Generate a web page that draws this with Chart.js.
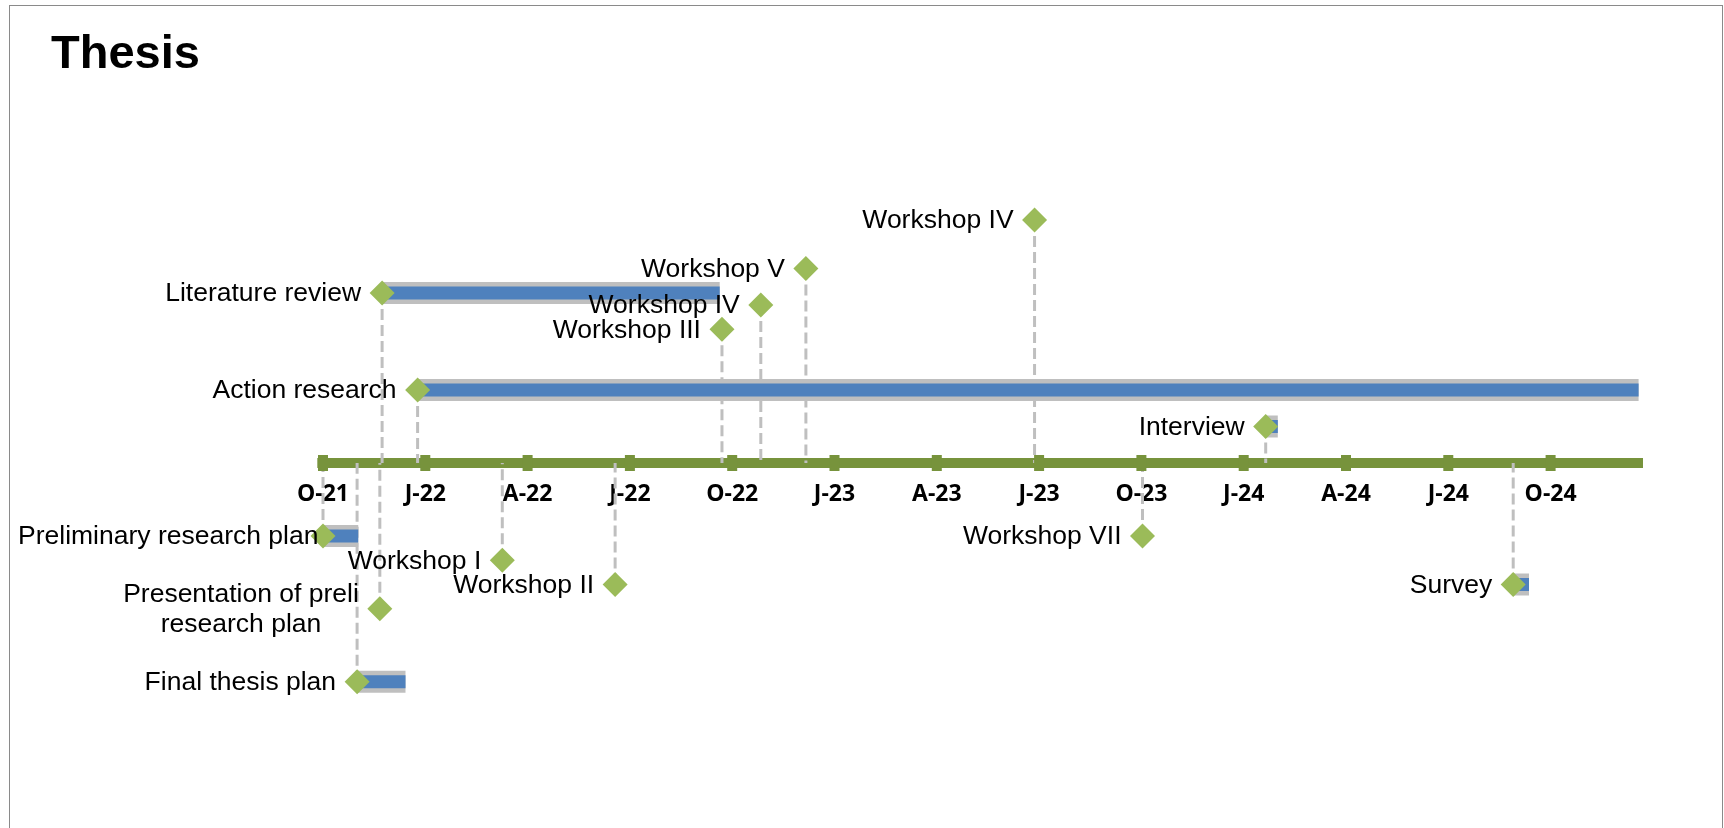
<!DOCTYPE html>
<html><head><meta charset="utf-8">
<script src="https://cdn.jsdelivr.net/npm/chart.js@4.4.1/dist/chart.umd.min.js"></script>
<style>
html,body{margin:0;padding:0;width:1724px;height:828px;overflow:hidden;background:#fff;}
#wrap{position:relative;width:1724px;height:828px;}
#frame{position:absolute;left:9px;top:5px;width:1714px;height:900px;border:1px solid #8a8a8a;box-sizing:border-box;pointer-events:none;}
canvas{position:absolute;left:0;top:0;}
</style></head><body>
<div id="wrap"><canvas id="c" width="1724" height="828"></canvas><div id="frame"></div></div>
<script>
// ---- data ----
const chartTitle = 'Thesis';
const eventNames = ['Preliminary research plan', 'Presentation of preli\nresearch plan', 'Final thesis plan',
  'Literature review', 'Action research', 'Workshop I', 'Workshop II', 'Workshop III', 'Workshop IV',
  'Workshop V', 'Workshop IV', 'Workshop VII', 'Interview', 'Survey'];
const eventStarts = ['2021-10-01', '2021-11-21', '2021-11-01', '2021-11-23', '2021-12-25', '2022-03-09',
  '2022-06-18', '2022-09-22', '2022-10-27', '2022-12-06', '2023-06-27', '2023-10-02', '2024-01-21', '2024-08-29'];
const eventEnds = ['2021-11-02', null, '2021-12-14', '2022-09-20', '2024-12-19', null,
  null, null, null, null, null, null, '2024-02-01', '2024-09-12'];
const eventHeights = [-3, -6, -9, 7, 3, -4, -5, 5.5, 6.5, 8, 10, -3, 1.5, -5];
const tickDates = ['2021-10-01', '2022-01-01', '2022-04-01', '2022-07-01', '2022-10-01', '2023-01-01',
  '2023-04-01', '2023-07-01', '2023-10-01', '2024-01-01', '2024-04-01', '2024-07-01', '2024-10-01'];
const tickLabels = ['O-21', 'J-22', 'A-22', 'J-22', 'O-22', 'J-23', 'A-23', 'J-23', 'O-23', 'J-24', 'A-24', 'J-24', 'O-24'];
const axisSpan = ['2021-09-26', '2024-12-23'];

// months since Oct 2021 (monthly date axis)
function toMonths(s) {
  const [Y, M, D] = s.split('-').map(Number);
  const dim = new Date(Y, M, 0).getDate();
  return (Y - 2021) * 12 + (M - 10) + (D - 1) / dim;
}
const tickMonths = tickDates.map(toMonths);

const GREEN_AXIS = '#77933C', GREEN_PT = '#9BBB59', BLUE = '#4F81BD', GREY = '#BFBFBF', DASH = '#BFBFBF';

const datasets = [];
// diamonds (drawn on top => lowest order)
datasets.push({
  data: eventStarts.map((s, i) => ({x: toMonths(s), y: eventHeights[i]})),
  pointStyle: 'rectRot', pointRadius: 12.5, pointBackgroundColor: GREEN_PT, pointBorderWidth: 0,
  showLine: false, order: 0
});
// duration bars
eventStarts.forEach((s, i) => {
  if (!eventEnds[i]) return;
  const pts = [{x: toMonths(s), y: eventHeights[i]}, {x: toMonths(eventEnds[i]), y: eventHeights[i]}];
  datasets.push({data: pts, showLine: true, borderColor: BLUE, borderWidth: 13, pointRadius: 0, borderCapStyle: 'butt', order: 1});
  datasets.push({data: pts, showLine: true, borderColor: GREY, borderWidth: 22, pointRadius: 0, borderCapStyle: 'butt', order: 2});
});
// tick marks on the axis
datasets.push({
  data: tickMonths.map(m => ({x: m, y: 0})),
  pointStyle: 'line', rotation: 90, pointRadius: 8, pointBorderColor: GREEN_AXIS, pointBorderWidth: 10,
  showLine: false, order: 3
});
// dashed leader lines
eventStarts.forEach((s, i) => {
  datasets.push({
    data: [{x: toMonths(s), y: eventHeights[i]}, {x: toMonths(s), y: 0}],
    showLine: true, borderColor: DASH, borderWidth: 3, borderDash: [11, 5], pointRadius: 0, order: 4
  });
});
// axis line
datasets.push({
  data: axisSpan.map(d => ({x: toMonths(d), y: 0})),
  showLine: true, borderColor: GREEN_AXIS, borderWidth: 10, pointRadius: 0, borderCapStyle: 'butt', order: 5
});

const labelPlugin = {
  id: 'eventLabels',
  afterDatasetsDraw(chart) {
    const ctx = chart.ctx, xs = chart.scales.x, ys = chart.scales.y;
    ctx.save();
    ctx.fillStyle = '#000';
    ctx.font = '26.5px "Liberation Sans", Arial, sans-serif';
    ctx.textBaseline = 'middle';
    eventNames.forEach((name, i) => {
      const px = xs.getPixelForValue(toMonths(eventStarts[i]));
      const py = ys.getPixelForValue(eventHeights[i]);
      const lines = name.split('\n');
      const lh = 30;
      const w = Math.max(...lines.map(l => ctx.measureText(l).width));
      let right = px - 21;
      if (right - w < 18) right = 18 + w;
      const multi = lines.length > 1;
      ctx.textAlign = multi ? 'center' : 'right';
      lines.forEach((l, k) => {
        const y = py + 1 + (k - (lines.length - 1) / 2) * lh;
        ctx.fillText(l, multi ? right - w / 2 : right, y);
      });
    });
    ctx.font = 'bold 47px "Liberation Sans", Arial, sans-serif';
    ctx.textAlign = 'left';
    ctx.textBaseline = 'alphabetic';
    ctx.fillText(chartTitle, 51, 68);
    ctx.restore();
  }
};

new Chart(document.getElementById('c'), {
  type: 'scatter',
  data: {datasets},
  plugins: [labelPlugin],
  options: {
    responsive: false, animation: false, devicePixelRatio: 1, events: [],
    layout: {autoPadding: false, padding: {left: 16.1, right: 2.9, top: 171.4, bottom: 24.8}},
    plugins: {legend: {display: false}, tooltip: {enabled: false}, title: {display: false}},
    scales: {
      x: {
        type: 'linear', min: -9, max: 41, position: {y: 0},
        afterBuildTicks: s => { s.ticks = tickMonths.map(v => ({value: v})); },
        ticks: {
          callback: v => tickLabels[tickMonths.indexOf(v)],
          font: {family: '"Open Sans", sans-serif', weight: 'bold', size: 23},
          color: '#000', padding: 10, maxRotation: 0, autoSkip: false
        },
        grid: {display: false}, border: {display: false}
      },
      y: {type: 'linear', min: -14, max: 12, display: false}
    }
  }
});
</script>
</body></html>
